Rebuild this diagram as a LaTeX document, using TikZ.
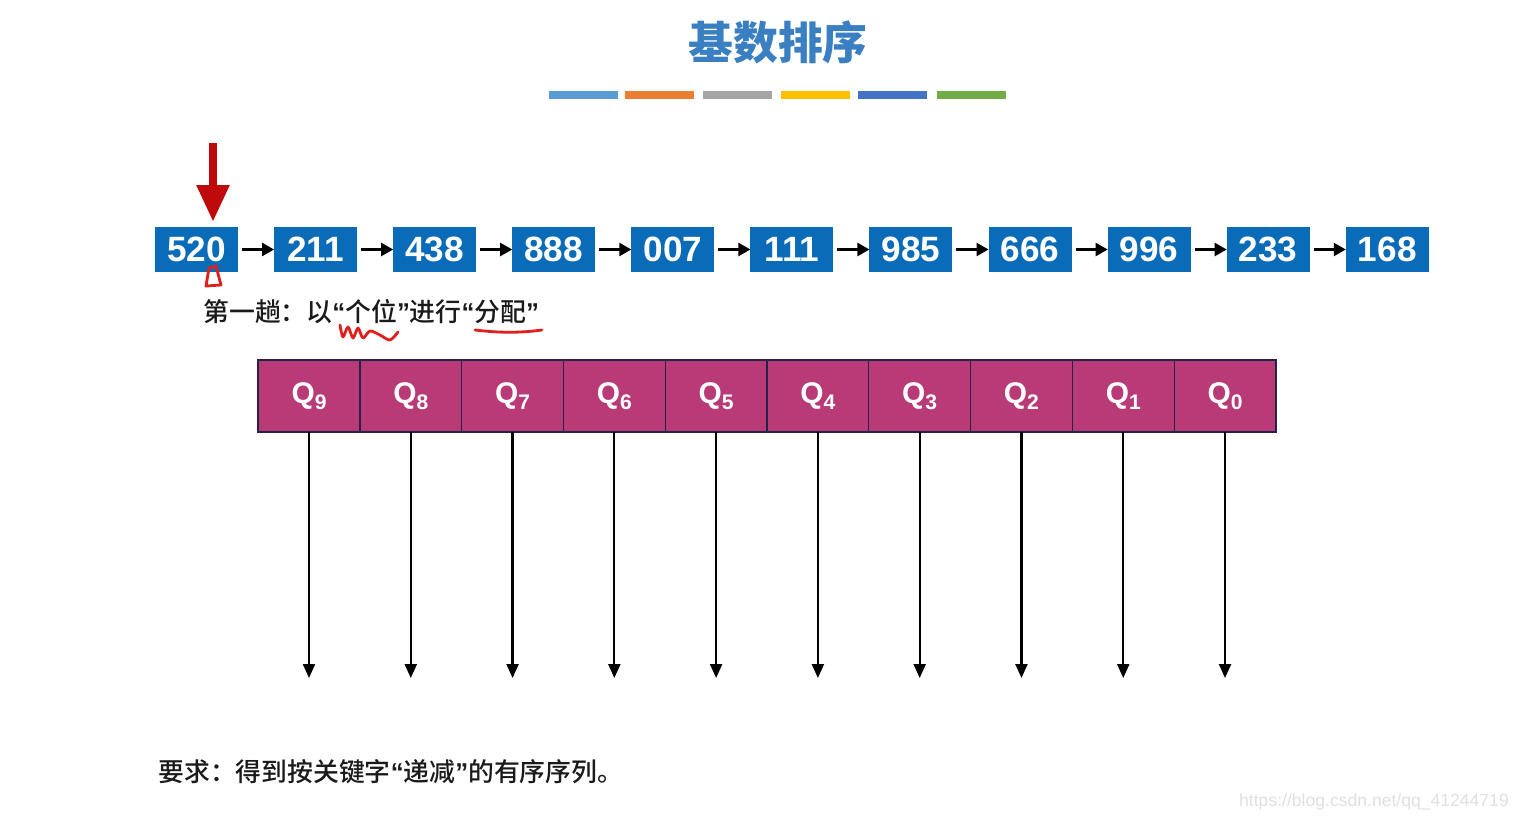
\documentclass[tikz,border=0pt]{standalone}
\usepackage{fontspec}
\setmainfont{Liberation Sans}
\newfontfamily\cjk{Noto Sans CJK SC}
\newfontfamily\cjkmid{Noto Sans CJK SC}[UprightFont=* Medium]
\usetikzlibrary{arrows.meta,positioning}
\definecolor{keyblue}{HTML}{0A6BB8}
\definecolor{queuemagenta}{HTML}{B83B78}
\definecolor{queueline}{HTML}{22224A}
\definecolor{ptrred}{HTML}{BE0A0A}
\definecolor{inkred}{HTML}{E0201C}
\definecolor{titleblue}{HTML}{3A7FC1}
\definecolor{textdark}{HTML}{1A1A1A}
\definecolor{barblue}{HTML}{5B9BD5}
\definecolor{barorange}{HTML}{ED7D31}
\definecolor{bargray}{HTML}{A5A5A5}
\definecolor{baryellow}{HTML}{FFC000}
\definecolor{bardarkblue}{HTML}{4472C4}
\definecolor{bargreen}{HTML}{70AD47}
\tikzset{
  keybox/.style={rectangle,fill=keyblue,text=white,minimum width=1.66cm,minimum height=0.9cm,
    inner sep=0pt,outer sep=0pt,font=\fontsize{20}{24}\selectfont\bfseries},
  queuebox/.style={rectangle,draw=queueline,fill=queuemagenta,line width=0.7pt,text=white,
    minimum width=2.036cm,minimum height=1.44cm,inner sep=0pt,outer sep=0pt,
    font=\fontsize{17}{20}\selectfont\bfseries},
  link/.style={-{Triangle[length=0.24cm,width=0.26cm]},line width=1.3pt,shorten <=0.08cm},
  drop/.style={-{Triangle[length=0.28cm,width=0.24cm]},line width=1.3pt},
  pointer/.style={-{Triangle[length=0.74cm,width=0.62cm]},line width=0.17cm,draw=ptrred,shorten >=0.1cm},
  ink/.style={draw=inkred,line width=1.6pt,line cap=round,line join=round},
  bar/.style={line width=0.16cm,draw=#1},
  note/.style={anchor=west,inner sep=0pt,text=textdark,font=\cjkmid\fontsize{14.7}{18}\selectfont}
}
\newcommand{\qlabel}[1]{Q\raisebox{-0.35ex}{\fontsize{12}{12}\selectfont #1}}
\newcommand{\oquote}{{\rmfamily\bfseries “}}
\newcommand{\cquote}{{\rmfamily\bfseries ”}}

\begin{document}
\begin{tikzpicture}[x=0.02cm,y=-0.02cm,node distance=0.722cm]
\useasboundingbox (0,0) rectangle (1524,821);

\node[text=titleblue,font=\cjk\bfseries\fontsize{25.5}{30}\selectfont] (title) at (778,42) {基数排序};

% colour bars under the title
\draw[bar=barblue] (549,95) -- (618,95);
\draw[bar=barorange] (625,95) -- (694,95);
\draw[bar=bargray] (703,95) -- (772,95);
\draw[bar=baryellow] (781,95) -- (850,95);
\draw[bar=bardarkblue] (858,95) -- (927,95);
\draw[bar=bargreen] (937,95) -- (1006,95);

% linked list of keys
\node[keybox] (k520) at (196.5,249.5) {520};
\node[keybox,right=of k520] (k211) {211};
\node[keybox,right=of k211] (k438) {438};
\node[keybox,right=of k438] (k888) {888};
\node[keybox,right=of k888] (k007) {007};
\node[keybox,right=of k007] (k111) {111};
\node[keybox,right=of k111] (k985) {985};
\node[keybox,right=of k985] (k666) {666};
\node[keybox,right=of k666] (k996) {996};
\node[keybox,right=of k996] (k233) {233};
\node[keybox,right=of k233] (k168) {168};

\draw[link] (k520) -- (k211);
\draw[link] (k211) -- (k438);
\draw[link] (k438) -- (k888);
\draw[link] (k888) -- (k007);
\draw[link] (k007) -- (k111);
\draw[link] (k111) -- (k985);
\draw[link] (k985) -- (k666);
\draw[link] (k666) -- (k996);
\draw[link] (k996) -- (k233);
\draw[link] (k233) -- (k168);

\coordinate (ptrtop) at (213,143);
\draw[pointer] (ptrtop) -- (ptrtop |- k520.north);

\node[note] (pass1) at (203,312) {第一趟：以\oquote 个位\cquote 进行\oquote 分配\cquote};

% queues
\node[queuebox] (q9) at (309,396) {\qlabel{9}};
\node[queuebox,right=0pt of q9] (q8) {\qlabel{8}};
\node[queuebox,right=0pt of q8] (q7) {\qlabel{7}};
\node[queuebox,right=0pt of q7] (q6) {\qlabel{6}};
\node[queuebox,right=0pt of q6] (q5) {\qlabel{5}};
\node[queuebox,right=0pt of q5] (q4) {\qlabel{4}};
\node[queuebox,right=0pt of q4] (q3) {\qlabel{3}};
\node[queuebox,right=0pt of q3] (q2) {\qlabel{2}};
\node[queuebox,right=0pt of q2] (q1) {\qlabel{1}};
\node[queuebox,right=0pt of q1] (q0) {\qlabel{0}};

\coordinate (dropend) at (0,678);
\draw[drop] (q9) -- (q9 |- dropend);
\draw[drop] (q8) -- (q8 |- dropend);
\draw[drop] (q7) -- (q7 |- dropend);
\draw[drop] (q6) -- (q6 |- dropend);
\draw[drop] (q5) -- (q5 |- dropend);
\draw[drop] (q4) -- (q4 |- dropend);
\draw[drop] (q3) -- (q3 |- dropend);
\draw[drop] (q2) -- (q2 |- dropend);
\draw[drop] (q1) -- (q1 |- dropend);
\draw[drop] (q0) -- (q0 |- dropend);

\node[note] (goal) at (158,772) {要求：得到按关键字\oquote 递减\cquote 的有序序列。};

\node[anchor=east,text=black!12,font=\fontsize{10}{12}\selectfont] (wm) at (1515,802) {https://blog.csdn.net/qq\_41244719};

% handwritten marks
\draw[ink] (209,268) -- (206,286) -- (221,285) -- (216,266) -- (210,268);
\draw[ink] plot[smooth] coordinates {(340,325) (343,337) (348,327) (353,338) (358,328) (363,338) (370,331) (380,335) (390,340) (398,332)};
\draw[ink] (475,330) .. controls (500,333) and (520,333) .. (542,330);
\end{tikzpicture}
\end{document}
